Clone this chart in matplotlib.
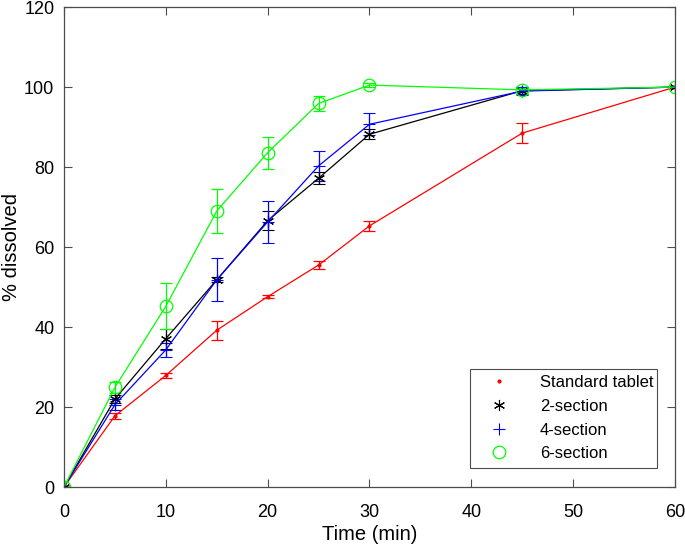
import matplotlib
matplotlib.use("Agg")
import matplotlib.pyplot as plt
from matplotlib.lines import Line2D
import numpy as np

plt.rcParams["font.family"] = ["Liberation Sans", "DejaVu Sans"]

# sampling times (min)
time_min = [0, 5, 10, 15, 20, 25, 30, 45, 60]

# % dissolved, mean and error
standard = [0, 17.8, 27.9, 39.2, 47.6, 55.5, 65.3, 88.5, 100]
standard_err = [0, 0.7, 0.7, 2.4, 0.3, 1.1, 1.3, 2.5, 0]

sec2 = [0, 22.0, 37.1, 51.8, 66.6, 77.2, 88.2, 99.1, 100]
sec2_err = [0, 0.9, 2.5, 0.6, 2.4, 1.5, 1.2, 0.8, 0]

sec4 = [0, 20.6, 34.3, 51.8, 66.3, 80.3, 90.7, 99.0, 100]
sec4_err = [0, 1.3, 1.8, 5.4, 5.3, 3.8, 2.7, 1.1, 0]

sec6 = [0, 24.9, 45.2, 69.0, 83.6, 95.9, 100.5, 99.3, 100]
sec6_err = [0, 1.4, 5.8, 5.6, 4.0, 1.8, 0.5, 0.5, 0]

labels = ["Standard tablet", "2-section", "4-section", "6-section"]

axcol = "#4d4d4d"

fig = plt.figure(figsize=(6.85, 5.46), dpi=100)
ax = fig.add_axes([0.0934, 0.108, 0.892, 0.879])

lw = 0.9
ax.errorbar(time_min, standard, yerr=standard_err, color="#ff0000", marker=".",
            markersize=4, lw=lw, elinewidth=lw, capsize=4, capthick=lw, label=labels[0])
ax.errorbar(time_min, sec2, yerr=sec2_err, color="black", marker=(6, 2, 0),
            markersize=8, markeredgewidth=0.8, lw=lw, elinewidth=lw, capsize=4,
            capthick=lw, label=labels[1])
ax.errorbar(time_min, sec4, yerr=sec4_err, color="#0000ff", marker="+",
            markersize=9, markeredgewidth=0.8, lw=lw, elinewidth=lw, capsize=4,
            capthick=lw, label=labels[2])
ax.errorbar(time_min, sec6, yerr=sec6_err, color="#00ff00", marker="o",
            markersize=9, markerfacecolor="none", markeredgewidth=0.9, lw=lw,
            elinewidth=lw, capsize=4, capthick=lw, label=labels[3])

ax.set_xlim(0, 60)
ax.set_ylim(0, 120)
ax.set_xticks(np.arange(0, 61, 10))
ax.set_yticks(np.arange(0, 121, 20))
ax.tick_params(direction="in", top=True, right=True, labelsize=13, length=6,
               width=0.8, color=axcol)
ax.tick_params(axis="x", pad=12)
ax.tick_params(axis="y", pad=7)
for s in ax.spines.values():
    s.set_linewidth(0.9)
    s.set_color(axcol)

ax.set_xlabel("Time (min)", fontsize=14.5, labelpad=3)
ax.set_ylabel("% dissolved", fontsize=14.5, labelpad=2)

# legend shows the markers only
handles = [
    Line2D([], [], ls="none", marker=".", color="#ff0000", markersize=4),
    Line2D([], [], ls="none", marker=(6, 2, 0), color="black", markersize=8, markeredgewidth=0.8),
    Line2D([], [], ls="none", marker="+", color="#0000ff", markersize=9, markeredgewidth=0.8),
    Line2D([], [], ls="none", marker="o", color="#00ff00", markerfacecolor="none",
           markersize=9, markeredgewidth=0.9),
]
leg = ax.legend(handles, labels, loc="lower left", bbox_to_anchor=(0.664, 0.04, 0.306, 0.204),
                mode="expand", fontsize=12, fancybox=False, edgecolor=axcol,
                framealpha=1, borderaxespad=0, handletextpad=1.1, labelspacing=0.52,
                borderpad=0.4, handlelength=2.7)
leg.get_frame().set_linewidth(0.8)

fig.savefig("out.png", dpi=100)
